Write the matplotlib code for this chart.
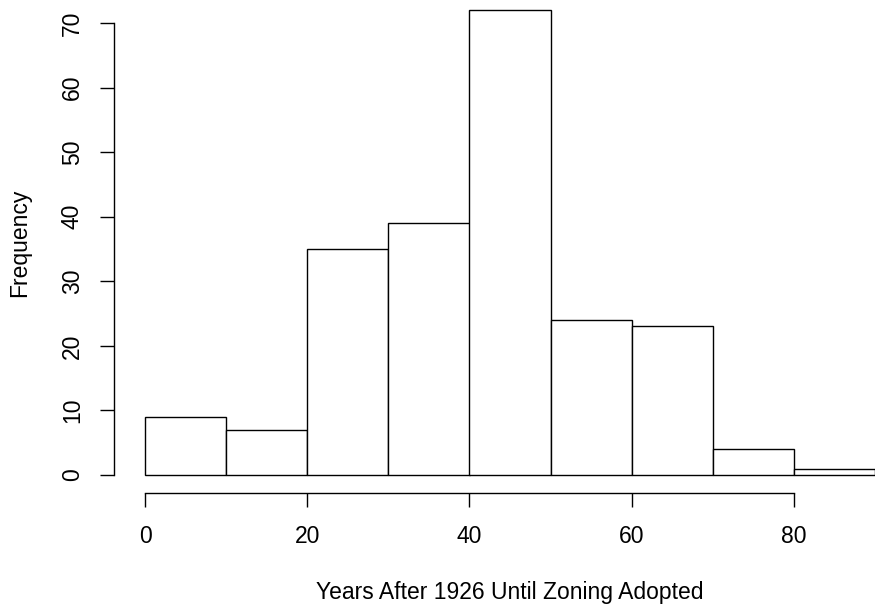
import matplotlib.pyplot as plt

# histogram of years after 1926 until zoning was adopted
bin_edges = [0, 10, 20, 30, 40, 50, 60, 70, 80, 90]
counts = [9, 7, 35, 39, 72, 24, 23, 4, 1]
x_ticks = [0, 20, 40, 60, 80]
y_ticks = [0, 10, 20, 30, 40, 50, 60, 70]

plt.rcParams['font.family'] = ['Liberation Sans', 'DejaVu Sans']

W, H = 875, 613
fig = plt.figure(figsize=(W / 100, H / 100), dpi=100)
# axes box: x 0..80 -> px 145..794, y 0..70 -> px 475..23
ax = fig.add_axes([145 / W, (H - 475) / H, (794 - 145) / W, (475 - 23) / H])
ax.set_xlim(0, 80)
ax.set_ylim(0, 70)

lefts = bin_edges[:-1]
widths = [b - a for a, b in zip(bin_edges[:-1], bin_edges[1:])]
ax.bar(lefts, counts, width=widths, align='edge', facecolor='white',
       edgecolor='black', linewidth=1.0, clip_on=False)

for s in ['top', 'right']:
    ax.spines[s].set_visible(False)
ax.spines['left'].set_position(('outward', 22))
ax.spines['bottom'].set_position(('outward', 13))
ax.spines['left'].set_bounds(0, 70)
ax.spines['bottom'].set_bounds(0, 80)
for s in ['left', 'bottom']:
    ax.spines[s].set_linewidth(1.0)

ax.set_xticks(x_ticks)
ax.set_yticks(y_ticks)
ax.tick_params(axis='both', length=10, width=1.0, labelsize=16.5)
ax.tick_params(axis='x', pad=13)
ax.tick_params(axis='y', pad=12)
plt.setp(ax.get_yticklabels(), rotation=90, va='center')

# labels sit at the middle of the full data range (0..90 and 0..72)
ax.set_xlabel('Years After 1926 Until Zoning Adopted', fontsize=16.5)
ax.set_ylabel('Frequency', fontsize=16.5)
ax.xaxis.set_label_coords(45 / 80, -(592 - 475) / (475 - 23))
ax.xaxis.label.set_va('center')
ax.yaxis.set_label_coords(-(145 - 20) / (794 - 145), 36 / 70)
ax.yaxis.label.set_va('center')

fig.savefig('out.png', dpi=100)
